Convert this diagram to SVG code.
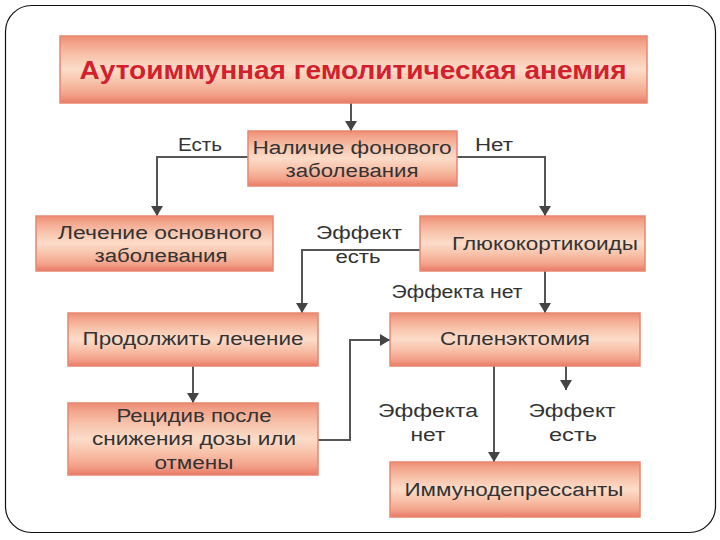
<svg xmlns="http://www.w3.org/2000/svg" width="720" height="540" viewBox="0 0 720 540">
<defs>
<linearGradient id="g" x1="0" y1="0" x2="0" y2="1">
<stop offset="0" stop-color="#ec8d74"/>
<stop offset="0.12" stop-color="#f3a78e"/>
<stop offset="0.3" stop-color="#f8c4ad"/>
<stop offset="0.5" stop-color="#fcdcc8"/>
<stop offset="0.7" stop-color="#f8c0a8"/>
<stop offset="0.88" stop-color="#f3a088"/>
<stop offset="1" stop-color="#e87a66"/>
</linearGradient>
<marker id="ah" viewBox="0 0 10 12" refX="10" refY="6" markerWidth="5.5" markerHeight="6" markerUnits="strokeWidth" orient="auto">
<path d="M0,0 L10,6 L0,12 Z" fill="#444"/>
</marker>
<style>
.box{fill:url(#g);stroke:#e98670;stroke-width:1.5}
.t{font-family:"Liberation Sans",Arial,sans-serif;font-size:18px;fill:#333;text-anchor:middle}
.title{font-family:"Liberation Sans",Arial,sans-serif;font-size:25px;font-weight:bold;fill:#d2202c;text-anchor:middle}
.c{fill:none;stroke:#555;stroke-width:2;marker-end:url(#ah)}
</style>
</defs>
<rect width="720" height="540" fill="#fff"/>
<rect x="5.5" y="5.5" width="710" height="527" rx="26" fill="none" stroke="#111" stroke-width="1.2"/>

<g id="connectors">
<path class="c" d="M351,103 V131"/>
<path class="c" d="M248,157 H157 V216"/>
<path class="c" d="M457,157 H545 V216"/>
<path class="c" d="M420,250 H302 V313"/>
<path class="c" d="M545,271 V313"/>
<path class="c" d="M193,366 V403"/>
<path class="c" d="M318,440 H350 V340 H390"/>
<path class="c" d="M494,366 V462"/>
<path class="c" d="M566,366 V390"/>
<text class="t" x="200" y="151" textLength="44" lengthAdjust="spacingAndGlyphs">Есть</text>
<text class="t" x="494" y="151" textLength="38" lengthAdjust="spacingAndGlyphs">Нет</text>
<text class="t" x="359" y="239" textLength="86" lengthAdjust="spacingAndGlyphs">Эффект</text>
<text class="t" x="358" y="263" textLength="45" lengthAdjust="spacingAndGlyphs">есть</text>
<text class="t" x="457" y="298" textLength="131" lengthAdjust="spacingAndGlyphs">Эффекта нет</text>
<text class="t" x="428" y="417" textLength="100" lengthAdjust="spacingAndGlyphs">Эффекта</text>
<text class="t" x="428" y="441" textLength="35" lengthAdjust="spacingAndGlyphs">нет</text>
<text class="t" x="572" y="417" textLength="87" lengthAdjust="spacingAndGlyphs">Эффект</text>
<text class="t" x="573" y="441" textLength="48" lengthAdjust="spacingAndGlyphs">есть</text>
</g>

<g id="n-title">
<rect class="box" x="60" y="36" width="587" height="67"/>
<text class="title" x="353" y="79" textLength="547" lengthAdjust="spacingAndGlyphs">Аутоиммунная гемолитическая анемия</text>
</g>
<g id="n-background">
<rect class="box" x="248" y="131" width="209" height="55"/>
<text class="t" x="352" y="154" textLength="199" lengthAdjust="spacingAndGlyphs">Наличие фонового</text>
<text class="t" x="352" y="177" textLength="133" lengthAdjust="spacingAndGlyphs">заболевания</text>
</g>
<g id="n-treat-underlying">
<rect class="box" x="36" y="216" width="237" height="55"/>
<text class="t" x="160" y="239" textLength="204" lengthAdjust="spacingAndGlyphs">Лечение основного</text>
<text class="t" x="161" y="262" textLength="133" lengthAdjust="spacingAndGlyphs">заболевания</text>
</g>
<g id="n-gluco">
<rect class="box" x="420" y="216" width="225" height="55"/>
<text class="t" x="545" y="250" textLength="186" lengthAdjust="spacingAndGlyphs">Глюкокортикоиды</text>
</g>
<g id="n-continue">
<rect class="box" x="68" y="313" width="250" height="53"/>
<text class="t" x="193" y="345" textLength="221" lengthAdjust="spacingAndGlyphs">Продолжить лечение</text>
</g>
<g id="n-splenectomy">
<rect class="box" x="390" y="313" width="250" height="53"/>
<text class="t" x="515" y="345" textLength="150" lengthAdjust="spacingAndGlyphs">Спленэктомия</text>
</g>
<g id="n-relapse">
<rect class="box" x="68" y="403" width="250" height="72"/>
<text class="t" x="194" y="422" textLength="155" lengthAdjust="spacingAndGlyphs">Рецидив после</text>
<text class="t" x="194" y="445" textLength="204" lengthAdjust="spacingAndGlyphs">снижения дозы или</text>
<text class="t" x="194" y="469" textLength="79" lengthAdjust="spacingAndGlyphs">отмены</text>
</g>
<g id="n-immuno">
<rect class="box" x="390" y="462" width="250" height="55"/>
<text class="t" x="514" y="496" textLength="219" lengthAdjust="spacingAndGlyphs">Иммунодепрессанты</text>
</g>
</svg>
